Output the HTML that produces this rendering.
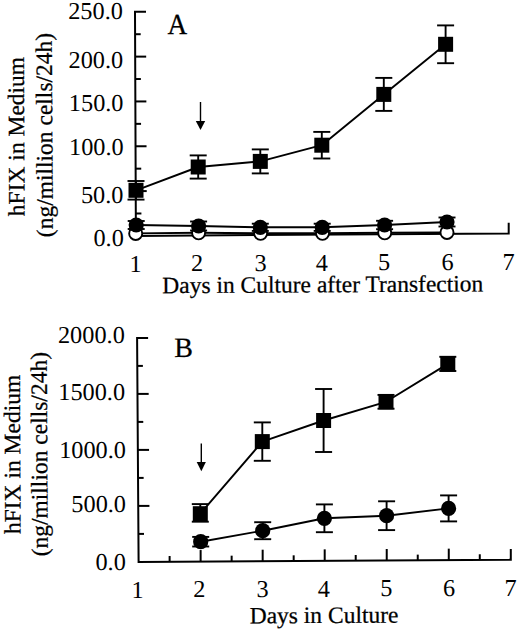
<!DOCTYPE html>
<html><head><meta charset="utf-8"><style>
html,body{margin:0;padding:0;background:#fff;}
body{width:520px;height:631px;overflow:hidden;}
svg{display:block;}
text{font-family:"Liberation Serif",serif;fill:#000;stroke:#000;stroke-width:0.25px;}
text.t{stroke:none;}
text{text-rendering:geometricPrecision;}
</style></head><body>
<svg width="520" height="631" viewBox="0 0 520 631" stroke="#000" stroke-linecap="butt">
<rect x="0" y="0" width="520" height="631" fill="#fff" stroke="none"/>
<path d="M146.0,11.8 L135.0,11.8 L135.9,235.9 L508.7,233.4 L508.7,222.8" fill="none" stroke-width="2" stroke-linejoin="miter"/>
<line x1="135.81" y1="213.49" x2="141.41" y2="213.49" stroke-width="2"/>
<line x1="135.72" y1="191.08" x2="146.72" y2="191.08" stroke-width="2"/>
<line x1="135.63" y1="168.67" x2="141.23" y2="168.67" stroke-width="2"/>
<line x1="135.54" y1="146.26" x2="146.54" y2="146.26" stroke-width="2"/>
<line x1="135.45" y1="123.85" x2="141.05" y2="123.85" stroke-width="2"/>
<line x1="135.36" y1="101.44" x2="146.36" y2="101.44" stroke-width="2"/>
<line x1="135.27" y1="79.03" x2="140.87" y2="79.03" stroke-width="2"/>
<line x1="135.18" y1="56.62" x2="146.18" y2="56.62" stroke-width="2"/>
<line x1="135.09" y1="34.21" x2="140.69" y2="34.21" stroke-width="2"/>
<text x="122.9" y="19.4" text-anchor="end" font-size="24.3" class="t">250.0</text>
<text x="123.2" y="67.5" text-anchor="end" font-size="24.3" class="t">200.0</text>
<text x="123.5" y="111.4" text-anchor="end" font-size="24.3" class="t">150.0</text>
<text x="123.7" y="154.7" text-anchor="end" font-size="24.3" class="t">100.0</text>
<text x="123.5" y="202.6" text-anchor="end" font-size="24.3" class="t">50.0</text>
<text x="123.8" y="246.0" text-anchor="end" font-size="24.3" class="t">0.0</text>
<text x="135.6" y="271.6" text-anchor="middle" font-size="24.3" class="t">1</text>
<text x="197.1" y="271.31" text-anchor="middle" font-size="24.3" class="t">2</text>
<text x="260.7" y="271.0" text-anchor="middle" font-size="24.3" class="t">3</text>
<text x="321.9" y="270.7" text-anchor="middle" font-size="24.3" class="t">4</text>
<text x="384.2" y="270.4" text-anchor="middle" font-size="24.3" class="t">5</text>
<text x="447.7" y="270.1" text-anchor="middle" font-size="24.3" class="t">6</text>
<text x="508.6" y="269.8" text-anchor="middle" font-size="24.3" class="t">7</text>
<text x="322.8" y="292.3" text-anchor="middle" font-size="23.5" transform="rotate(-0.3 322.8 292.3)">Days in Culture after Transfection</text>
<text transform="translate(24.2,136.5) rotate(-90.3)" text-anchor="middle" font-size="23.5">hFIX in Medium</text>
<text transform="translate(52.3,135) rotate(-90.3)" text-anchor="middle" font-size="23.5">(ng/million cells/24h)</text>
<text transform="translate(177.3,33.5) scale(0.94,1)" text-anchor="middle" font-size="29">A</text>
<polyline points="135.7,233.4 198.6,232.8 260.6,233.3 322.5,233.3 384.7,232.8 447,232.4" fill="none" stroke-width="1.9" stroke-linejoin="round"/>
<polyline points="136.2,225 198.6,226 260.3,227.3 322.2,227.3 384.6,225 447,222" fill="none" stroke-width="1.9" stroke-linejoin="round"/>
<polyline points="136,190.3 198.2,167 260.3,161.4 321.8,145.2 383.8,94.4 445.6,44.3" fill="none" stroke-width="1.9" stroke-linejoin="round"/>
<circle cx="135.7" cy="233.4" r="6.55" fill="#fff" stroke-width="1.9"/>
<circle cx="198.6" cy="232.8" r="6.55" fill="#fff" stroke-width="1.9"/>
<circle cx="260.6" cy="233.3" r="6.55" fill="#fff" stroke-width="1.9"/>
<circle cx="322.5" cy="233.3" r="6.55" fill="#fff" stroke-width="1.9"/>
<circle cx="384.7" cy="232.8" r="6.55" fill="#fff" stroke-width="1.9"/>
<circle cx="447" cy="232.4" r="6.55" fill="#fff" stroke-width="1.9"/>
<line x1="136.2" y1="221" x2="136.2" y2="229" stroke-width="1.9"/>
<line x1="127.7" y1="221" x2="144.7" y2="221" stroke-width="1.9"/>
<line x1="127.7" y1="229" x2="144.7" y2="229" stroke-width="1.9"/>
<circle cx="136.2" cy="225" r="7.6" fill="#000" stroke="none"/>
<line x1="198.6" y1="221.5" x2="198.6" y2="230.5" stroke-width="1.9"/>
<line x1="190.1" y1="221.5" x2="207.1" y2="221.5" stroke-width="1.9"/>
<line x1="190.1" y1="230.5" x2="207.1" y2="230.5" stroke-width="1.9"/>
<circle cx="198.6" cy="226" r="7.6" fill="#000" stroke="none"/>
<line x1="260.3" y1="223.7" x2="260.3" y2="230.9" stroke-width="1.9"/>
<line x1="251.8" y1="223.7" x2="268.8" y2="223.7" stroke-width="1.9"/>
<line x1="251.8" y1="230.9" x2="268.8" y2="230.9" stroke-width="1.9"/>
<circle cx="260.3" cy="227.3" r="7.6" fill="#000" stroke="none"/>
<line x1="322.2" y1="223.7" x2="322.2" y2="230.9" stroke-width="1.9"/>
<line x1="313.7" y1="223.7" x2="330.7" y2="223.7" stroke-width="1.9"/>
<line x1="313.7" y1="230.9" x2="330.7" y2="230.9" stroke-width="1.9"/>
<circle cx="322.2" cy="227.3" r="7.6" fill="#000" stroke="none"/>
<line x1="384.6" y1="220.8" x2="384.6" y2="229.2" stroke-width="1.9"/>
<line x1="376.1" y1="220.8" x2="393.1" y2="220.8" stroke-width="1.9"/>
<line x1="376.1" y1="229.2" x2="393.1" y2="229.2" stroke-width="1.9"/>
<circle cx="384.6" cy="225" r="7.6" fill="#000" stroke="none"/>
<line x1="447" y1="217.5" x2="447" y2="226.5" stroke-width="1.9"/>
<line x1="438.5" y1="217.5" x2="455.5" y2="217.5" stroke-width="1.9"/>
<line x1="438.5" y1="226.5" x2="455.5" y2="226.5" stroke-width="1.9"/>
<circle cx="447" cy="222" r="7.6" fill="#000" stroke="none"/>
<line x1="136" y1="181.0" x2="136" y2="199.6" stroke-width="1.9"/>
<line x1="127.5" y1="181.0" x2="144.5" y2="181.0" stroke-width="1.9"/>
<line x1="127.5" y1="199.6" x2="144.5" y2="199.6" stroke-width="1.9"/>
<rect x="128.5" y="182.8" width="15" height="15" fill="#000" stroke="none"/>
<line x1="198.2" y1="155.4" x2="198.2" y2="178.6" stroke-width="1.9"/>
<line x1="189.7" y1="155.4" x2="206.7" y2="155.4" stroke-width="1.9"/>
<line x1="189.7" y1="178.6" x2="206.7" y2="178.6" stroke-width="1.9"/>
<rect x="190.7" y="159.5" width="15" height="15" fill="#000" stroke="none"/>
<line x1="260.3" y1="149.4" x2="260.3" y2="173.4" stroke-width="1.9"/>
<line x1="251.8" y1="149.4" x2="268.8" y2="149.4" stroke-width="1.9"/>
<line x1="251.8" y1="173.4" x2="268.8" y2="173.4" stroke-width="1.9"/>
<rect x="252.8" y="153.9" width="15" height="15" fill="#000" stroke="none"/>
<line x1="321.8" y1="131.9" x2="321.8" y2="158.5" stroke-width="1.9"/>
<line x1="313.3" y1="131.9" x2="330.3" y2="131.9" stroke-width="1.9"/>
<line x1="313.3" y1="158.5" x2="330.3" y2="158.5" stroke-width="1.9"/>
<rect x="314.3" y="137.7" width="15" height="15" fill="#000" stroke="none"/>
<line x1="383.8" y1="77.9" x2="383.8" y2="110.9" stroke-width="1.9"/>
<line x1="375.3" y1="77.9" x2="392.3" y2="77.9" stroke-width="1.9"/>
<line x1="375.3" y1="110.9" x2="392.3" y2="110.9" stroke-width="1.9"/>
<rect x="376.3" y="86.9" width="15" height="15" fill="#000" stroke="none"/>
<line x1="445.6" y1="25.4" x2="445.6" y2="63.2" stroke-width="1.9"/>
<line x1="437.1" y1="25.4" x2="454.1" y2="25.4" stroke-width="1.9"/>
<line x1="437.1" y1="63.2" x2="454.1" y2="63.2" stroke-width="1.9"/>
<rect x="438.1" y="36.8" width="15" height="15" fill="#000" stroke="none"/>
<line x1="200.5" y1="102" x2="200.5" y2="122" stroke-width="1.4"/>
<polygon points="195.8,121 205.2,121 200.5,130" fill="#000" stroke="none"/>
<path d="M148.1,337.9 L137.1,337.9 L138.6,561.9 L510.8,559.8 L510.8,549.0" fill="none" stroke-width="2" stroke-linejoin="miter"/>
<line x1="138.41" y1="533.9" x2="144.01" y2="533.9" stroke-width="2"/>
<line x1="138.22" y1="505.9" x2="149.42" y2="505.9" stroke-width="2"/>
<line x1="138.04" y1="477.9" x2="143.64" y2="477.9" stroke-width="2"/>
<line x1="137.85" y1="449.9" x2="149.05" y2="449.9" stroke-width="2"/>
<line x1="137.66" y1="421.9" x2="143.26" y2="421.9" stroke-width="2"/>
<line x1="137.47" y1="393.9" x2="148.67" y2="393.9" stroke-width="2"/>
<line x1="137.29" y1="365.9" x2="142.89" y2="365.9" stroke-width="2"/>
<line x1="169.62" y1="561.73" x2="169.62" y2="556.02" stroke-width="2"/>
<line x1="200.63" y1="561.55" x2="200.63" y2="550.05" stroke-width="2"/>
<line x1="231.65" y1="561.38" x2="231.65" y2="555.67" stroke-width="2"/>
<line x1="262.67" y1="561.2" x2="262.67" y2="549.7" stroke-width="2"/>
<line x1="293.68" y1="561.02" x2="293.68" y2="555.32" stroke-width="2"/>
<line x1="324.7" y1="560.85" x2="324.7" y2="549.35" stroke-width="2"/>
<line x1="355.72" y1="560.67" x2="355.72" y2="554.97" stroke-width="2"/>
<line x1="386.73" y1="560.5" x2="386.73" y2="549.0" stroke-width="2"/>
<line x1="417.75" y1="560.32" x2="417.75" y2="554.62" stroke-width="2"/>
<line x1="448.77" y1="560.15" x2="448.77" y2="548.65" stroke-width="2"/>
<line x1="479.78" y1="559.97" x2="479.78" y2="554.27" stroke-width="2"/>
<text x="124.8" y="342.8" text-anchor="end" font-size="24.3" class="t">2000.0</text>
<text x="125.1" y="400.3" text-anchor="end" font-size="24.3" class="t">1500.0</text>
<text x="126.0" y="458.3" text-anchor="end" font-size="24.3" class="t">1000.0</text>
<text x="126.0" y="511.8" text-anchor="end" font-size="24.3" class="t">500.0</text>
<text x="125.8" y="570.3" text-anchor="end" font-size="24.3" class="t">0.0</text>
<text x="137.7" y="597.5" text-anchor="middle" font-size="24.3" class="t">1</text>
<text x="199.4" y="597.2" text-anchor="middle" font-size="24.3" class="t">2</text>
<text x="262.6" y="596.9" text-anchor="middle" font-size="24.3" class="t">3</text>
<text x="323.8" y="596.6" text-anchor="middle" font-size="24.3" class="t">4</text>
<text x="386.3" y="596.3" text-anchor="middle" font-size="24.3" class="t">5</text>
<text x="449.1" y="596.0" text-anchor="middle" font-size="24.3" class="t">6</text>
<text x="510.6" y="595.7" text-anchor="middle" font-size="24.3" class="t">7</text>
<text x="324.1" y="623.0" text-anchor="middle" font-size="23.5" transform="rotate(-0.3 324.1 623.0)">Days in Culture</text>
<text transform="translate(20.2,454.4) rotate(-90.3)" text-anchor="middle" font-size="23.5">hFIX in Medium</text>
<text transform="translate(47.2,454.2) rotate(-90.3)" text-anchor="middle" font-size="23.5">(ng/million cells/24h)</text>
<text x="183.6" y="356.5" text-anchor="middle" font-size="28">B</text>
<polyline points="200.7,541.7 262.7,530.7 324.4,518.3 386.6,515.7 448.6,508.4" fill="none" stroke-width="1.9" stroke-linejoin="round"/>
<polyline points="200.3,513.7 262.3,441.6 323.6,420.5 386,401.8 447.8,363.9" fill="none" stroke-width="1.9" stroke-linejoin="round"/>
<line x1="200.7" y1="536.9" x2="200.7" y2="546.5" stroke-width="1.9"/>
<line x1="192.2" y1="536.9" x2="209.2" y2="536.9" stroke-width="1.9"/>
<line x1="192.2" y1="546.5" x2="209.2" y2="546.5" stroke-width="1.9"/>
<circle cx="200.7" cy="541.7" r="7.6" fill="#000" stroke="none"/>
<line x1="262.7" y1="522.2" x2="262.7" y2="539.2" stroke-width="1.9"/>
<line x1="254.2" y1="522.2" x2="271.2" y2="522.2" stroke-width="1.9"/>
<line x1="254.2" y1="539.2" x2="271.2" y2="539.2" stroke-width="1.9"/>
<circle cx="262.7" cy="530.7" r="7.6" fill="#000" stroke="none"/>
<line x1="324.4" y1="504.4" x2="324.4" y2="532.2" stroke-width="1.9"/>
<line x1="315.9" y1="504.4" x2="332.9" y2="504.4" stroke-width="1.9"/>
<line x1="315.9" y1="532.2" x2="332.9" y2="532.2" stroke-width="1.9"/>
<circle cx="324.4" cy="518.3" r="7.6" fill="#000" stroke="none"/>
<line x1="386.6" y1="501.3" x2="386.6" y2="530.1" stroke-width="1.9"/>
<line x1="378.1" y1="501.3" x2="395.1" y2="501.3" stroke-width="1.9"/>
<line x1="378.1" y1="530.1" x2="395.1" y2="530.1" stroke-width="1.9"/>
<circle cx="386.6" cy="515.7" r="7.6" fill="#000" stroke="none"/>
<line x1="448.6" y1="495.4" x2="448.6" y2="521.4" stroke-width="1.9"/>
<line x1="440.1" y1="495.4" x2="457.1" y2="495.4" stroke-width="1.9"/>
<line x1="440.1" y1="521.4" x2="457.1" y2="521.4" stroke-width="1.9"/>
<circle cx="448.6" cy="508.4" r="7.6" fill="#000" stroke="none"/>
<line x1="200.3" y1="504.1" x2="200.3" y2="521.7" stroke-width="1.9"/>
<line x1="191.8" y1="504.1" x2="208.8" y2="504.1" stroke-width="1.9"/>
<line x1="191.8" y1="521.7" x2="208.8" y2="521.7" stroke-width="1.9"/>
<rect x="192.8" y="506.2" width="15" height="15" fill="#000" stroke="none"/>
<line x1="262.3" y1="422.4" x2="262.3" y2="460.8" stroke-width="1.9"/>
<line x1="253.8" y1="422.4" x2="270.8" y2="422.4" stroke-width="1.9"/>
<line x1="253.8" y1="460.8" x2="270.8" y2="460.8" stroke-width="1.9"/>
<rect x="254.8" y="434.1" width="15" height="15" fill="#000" stroke="none"/>
<line x1="323.6" y1="389.0" x2="323.6" y2="452.0" stroke-width="1.9"/>
<line x1="315.1" y1="389.0" x2="332.1" y2="389.0" stroke-width="1.9"/>
<line x1="315.1" y1="452.0" x2="332.1" y2="452.0" stroke-width="1.9"/>
<rect x="316.1" y="413.0" width="15" height="15" fill="#000" stroke="none"/>
<line x1="386" y1="394.9" x2="386" y2="408.7" stroke-width="1.9"/>
<line x1="377.5" y1="394.9" x2="394.5" y2="394.9" stroke-width="1.9"/>
<line x1="377.5" y1="408.7" x2="394.5" y2="408.7" stroke-width="1.9"/>
<rect x="378.5" y="394.3" width="15" height="15" fill="#000" stroke="none"/>
<line x1="447.8" y1="356.8" x2="447.8" y2="371.0" stroke-width="1.9"/>
<line x1="439.3" y1="356.8" x2="456.3" y2="356.8" stroke-width="1.9"/>
<line x1="439.3" y1="371.0" x2="456.3" y2="371.0" stroke-width="1.9"/>
<rect x="440.3" y="356.4" width="15" height="15" fill="#000" stroke="none"/>
<line x1="201.3" y1="443.5" x2="201.3" y2="463" stroke-width="1.4"/>
<polygon points="196.7,462 205.9,462 201.3,471.2" fill="#000" stroke="none"/>
</svg>
</body></html>
